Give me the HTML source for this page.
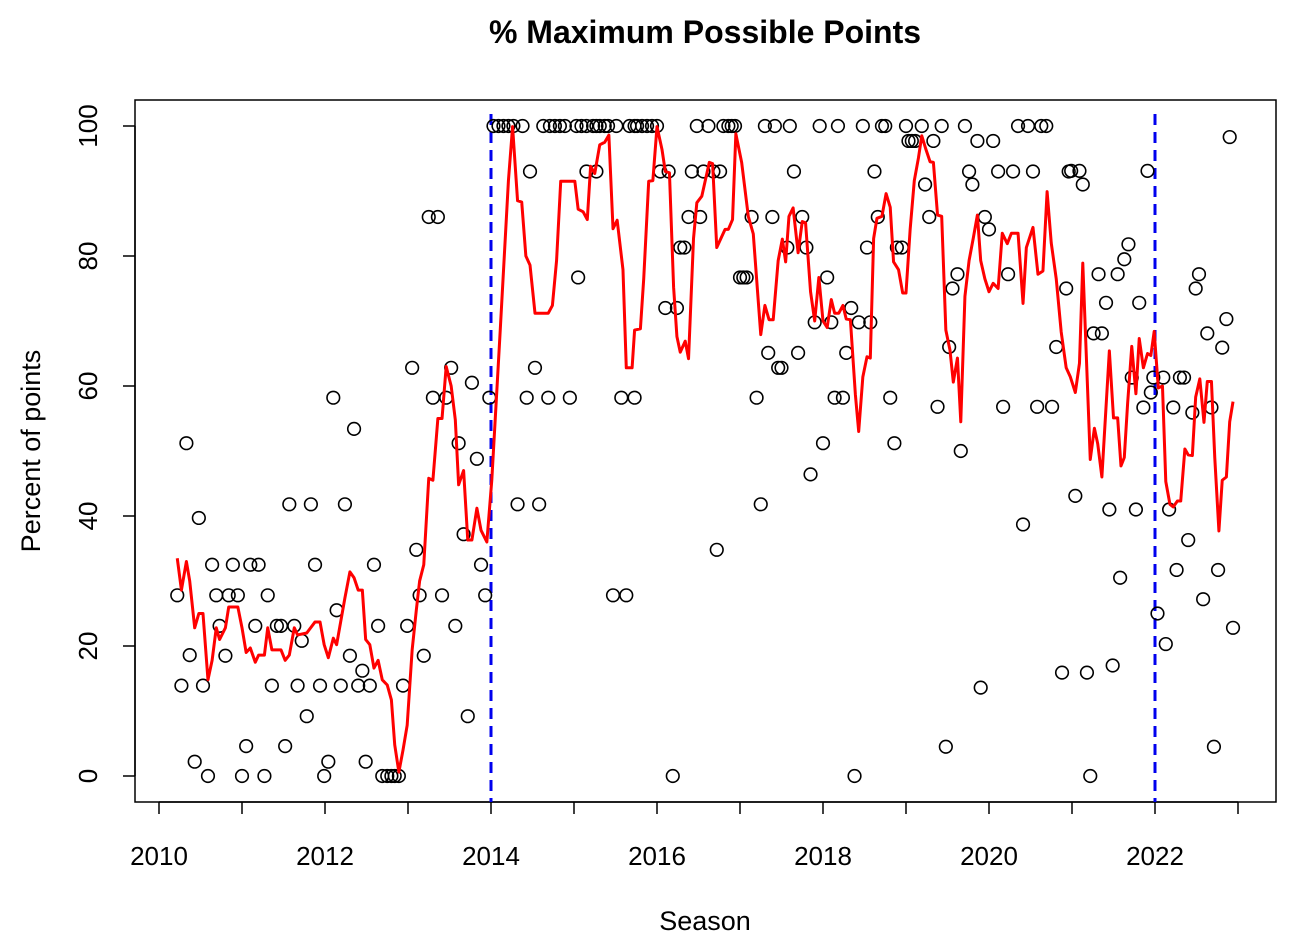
<!DOCTYPE html>
<html><head><meta charset="utf-8">
<style>
html,body{margin:0;padding:0;background:#fff;}
svg{display:block;font-family:"Liberation Sans",Arial,sans-serif;}
</style></head>
<body>
<svg id="chart" width="1315" height="944" viewBox="0 0 1315 944">
<text x="705" y="43" text-anchor="middle" font-size="32" font-weight="bold">% Maximum Possible Points</text>
<text x="705" y="930" text-anchor="middle" font-size="27">Season</text>
<text transform="translate(40,451) rotate(-90)" text-anchor="middle" font-size="27">Percent of points</text>
<rect x="135" y="100" width="1141" height="702" fill="none" stroke="#000" stroke-width="1.5"/>
<g id="axes"></g>
<g id="vlines"></g>
<g id="pts"></g>
<g id="line"></g>
</svg>
<script>
const ptYears=[2010.22,2010.27,2010.33,2010.37,2010.43,2010.48,2010.53,2010.59,2010.64,2010.69,2010.73,2010.80,2010.84,2010.89,2010.95,2011.00,2011.05,2011.10,2011.16,2011.20,2011.27,2011.31,2011.36,2011.42,2011.47,2011.52,2011.57,2011.63,2011.67,2011.72,2011.78,2011.83,2011.88,2011.94,2011.99,2012.04,2012.10,2012.14,2012.19,2012.24,2012.30,2012.35,2012.40,2012.45,2012.49,2012.54,2012.59,2012.64,2012.69,2012.75,2012.80,2012.84,2012.89,2012.94,2012.99,2013.05,2013.10,2013.14,2013.19,2013.25,2013.30,2013.36,2013.41,2013.46,2013.52,2013.57,2013.61,2013.67,2013.72,2013.77,2013.83,2013.88,2013.93,2013.98,
2014.03,2014.09,2014.15,2014.21,2014.27,2014.32,2014.38,2014.43,2014.47,2014.53,2014.58,2014.63,2014.69,2014.71,2014.77,2014.83,2014.89,2014.95,2015.03,2015.05,2015.09,2015.15,2015.15,2015.23,2015.27,2015.27,2015.31,2015.37,2015.41,2015.47,2015.51,2015.57,2015.63,2015.67,2015.73,2015.73,2015.76,2015.82,2015.88,2015.94,2016.00,2016.04,2016.10,2016.14,2016.19,2016.24,2016.28,2016.33,2016.38,2016.42,2016.48,2016.52,2016.56,2016.62,2016.68,2016.72,2016.76,2016.80,2016.86,2016.90,2016.94,2017.00,2017.04,2017.08,2017.14,2017.20,2017.25,2017.30,2017.34,2017.39,2017.42,2017.46,
2017.50,2017.57,2017.60,2017.65,2017.70,2017.75,2017.80,2017.85,2017.90,2017.96,2018.00,2018.05,2018.10,2018.14,2018.18,2018.24,2018.28,2018.34,2018.38,2018.43,2018.48,2018.53,2018.57,2018.62,2018.66,2018.71,2018.75,2018.81,2018.86,2018.89,2018.95,2019.00,2019.03,2019.07,2019.11,2019.19,2019.23,2019.28,2019.33,2019.38,2019.43,2019.48,2019.52,2019.56,2019.62,2019.66,2019.71,2019.76,2019.80,2019.86,2019.90,2019.95,2020.00,2020.05,2020.11,2020.17,2020.23,2020.29,2020.35,2020.41,2020.47,2020.53,2020.58,2020.63,2020.69,2020.76,2020.81,2020.88,2020.93,2020.96,
2020.99,2021.04,2021.09,2021.13,2021.18,2021.22,2021.26,2021.32,2021.36,2021.41,2021.45,2021.49,2021.55,2021.58,2021.63,2021.68,2021.72,2021.77,2021.81,2021.86,2021.91,2021.95,2021.98,2022.03,2022.10,2022.13,2022.17,2022.22,2022.26,2022.30,2022.35,2022.40,2022.45,2022.49,2022.53,2022.58,2022.63,2022.68,2022.71,2022.76,2022.81,2022.86,2022.90,2022.94];
const ptValues=[27.8,13.9,51.2,18.6,2.2,39.7,13.9,0,32.5,27.8,23.1,18.5,27.8,32.5,27.8,0,4.6,32.5,23.1,32.5,0,27.8,13.9,23.1,23.1,4.6,41.8,23.1,13.9,20.8,9.2,41.8,32.5,13.9,0,2.2,58.2,25.5,13.9,41.8,18.5,53.4,13.9,16.2,2.2,13.9,32.5,23.1,0,0,0,0,0,13.9,23.1,62.8,34.8,27.8,18.5,86,58.2,86,27.8,58.2,62.8,23.1,51.2,37.2,9.2,60.5,48.8,32.5,27.8,58.2,
100,100,100,100,100,41.8,100,58.2,93,62.8,41.8,100,58.2,100,100,100,100,58.2,100,76.7,100,100,93,100,100,93,100,100,100,27.8,100,58.2,27.8,100,58.2,100,100,100,100,100,100,93,72,93,0,72,81.3,81.3,86,93,100,86,93,100,93,34.8,93,100,100,100,100,76.7,76.7,76.7,86,58.2,41.8,100,65.1,86,100,62.8,
62.8,81.3,100,93,65.1,86,81.3,46.4,69.8,100,51.2,76.7,69.8,58.2,100,58.2,65.1,72,0,69.8,100,81.3,69.8,93,86,100,100,58.2,51.2,81.3,81.3,100,97.7,97.7,97.7,100,91,86,97.7,56.8,100,4.5,66,75,77.2,50,100,93,91,97.7,13.6,86,84.1,97.7,93,56.8,77.2,93,100,38.7,100,93,56.8,100,100,56.8,66,15.9,75,93,
93.1,43.1,93.1,91,15.9,0,68.1,77.2,68.1,72.8,41,17,77.2,30.5,79.5,81.8,61.3,41,72.8,56.7,93.1,59,61.3,25,61.3,20.3,41,56.7,31.7,61.3,61.3,36.3,55.9,75,77.2,27.2,68.1,56.7,4.5,31.7,65.9,70.3,98.3,22.8];
const lineYears=[2010.22,2010.27,2010.33,2010.37,2010.43,2010.48,2010.53,2010.59,2010.64,2010.69,2010.73,2010.80,2010.84,2010.95,2011.00,2011.05,2011.10,2011.16,2011.20,2011.27,2011.31,2011.36,2011.47,2011.52,2011.57,2011.63,2011.67,2011.78,2011.88,2011.94,2011.99,2012.04,2012.10,2012.14,2012.24,2012.30,2012.35,2012.40,2012.45,2012.49,2012.54,2012.59,2012.64,2012.69,2012.75,2012.80,2012.84,2012.89,2012.94,2012.99,2013.05,2013.10,2013.14,2013.19,2013.25,2013.30,2013.36,2013.41,2013.46,2013.52,2013.57,2013.61,2013.67,2013.72,2013.77,2013.83,2013.88,2013.95,
2014.01,2014.11,2014.21,2014.26,2014.32,2014.37,2014.42,2014.47,2014.53,2014.69,2014.74,2014.79,2014.84,2015.01,2015.05,2015.11,2015.16,2015.20,2015.25,2015.31,2015.37,2015.42,2015.47,2015.52,2015.59,2015.63,2015.70,2015.73,2015.80,2015.84,2015.90,2015.95,2016.00,2016.06,2016.10,2016.15,2016.20,2016.24,2016.28,2016.34,2016.38,2016.44,2016.48,2016.54,2016.63,2016.67,2016.72,2016.82,2016.86,2016.91,2016.95,2017.02,2017.10,2017.16,2017.20,2017.25,2017.30,2017.35,2017.40,
2017.46,2017.51,2017.55,2017.59,2017.64,2017.70,2017.75,2017.79,2017.85,2017.90,2017.95,2018.00,2018.05,2018.10,2018.14,2018.19,2018.24,2018.28,2018.33,2018.39,2018.43,2018.48,2018.53,2018.57,2018.61,2018.65,2018.71,2018.76,2018.81,2018.85,2018.91,2018.96,2019.00,2019.05,2019.10,2019.15,2019.19,2019.24,2019.29,2019.33,2019.38,2019.43,2019.48,2019.53,2019.57,2019.62,2019.66,2019.71,2019.76,2019.81,2019.86,2019.90,2019.95,2020.00,2020.05,2020.11,2020.16,2020.22,2020.27,2020.35,2020.41,2020.45,2020.53,2020.59,2020.65,2020.70,2020.75,2020.81,2020.87,2020.93,2020.98,
2021.04,2021.09,2021.13,2021.22,2021.27,2021.31,2021.36,2021.45,2021.50,2021.55,2021.59,2021.63,2021.67,2021.72,2021.77,2021.81,2021.86,2021.91,2021.95,2021.99,2022.04,2022.09,2022.13,2022.18,2022.22,2022.27,2022.31,2022.36,2022.40,2022.45,2022.49,2022.54,2022.59,2022.63,2022.68,2022.72,2022.77,2022.81,2022.86,2022.90,2022.94];
const lineValues=[33.5,28.6,33,30,22.8,25,25,14.8,17.8,22.8,21,22.8,26,26,22.8,19,19.7,17.5,18.6,18.6,22.8,19.4,19.4,17.8,18.6,22.8,21.7,22,23.7,23.7,20.2,18.2,21.2,20.2,27.4,31.4,30.5,28.6,28.6,21,20.2,16.6,17.8,14.8,14,11.7,4.8,0.6,4,7.8,19.4,25.5,30,32.5,45.8,45.5,55,55,63,60,54.8,44.8,47,36.3,36.3,41.2,37.8,36,
45.6,68.3,91.6,99.9,88.5,88.3,80,78.6,71.2,71.2,72.4,79.3,91.5,91.5,87.2,86.8,85.6,93.8,92.7,97.1,97.5,98.6,84.2,85.5,77.9,62.8,62.8,68.6,68.8,76.5,91.5,91.6,99.9,96.4,93,92.8,75.2,67.6,65.2,66.9,64.2,82.7,88.2,89.2,94.4,94.2,81.3,84.1,84.1,85.6,98.8,94.4,86.1,83.4,76.5,67.9,72.4,70.2,70.2,
79.3,82.6,79.1,86.1,87.4,80.5,85.3,85.1,74.5,70,76.7,70,69,73.3,71.2,71.2,72.4,70.3,70.2,58.7,53,61.4,64.5,64.3,82.7,85.8,86.1,89.6,87.5,79.1,77.9,74.3,74.3,84.1,91.6,95.1,98.5,96.4,94.5,94.4,86.3,86.1,68.6,65.5,60.6,64.3,54.5,73.8,79.3,82.7,86.3,79.3,76.5,74.5,75.8,75,83.5,81.9,83.5,83.5,72.7,81.3,84.4,77.2,77.7,89.9,82,76.5,68.3,62.8,61.4,
59,63.5,78.9,48.7,53.5,51.1,46,65.4,55.1,55.1,47.7,49,57.3,66.1,58.8,67.3,62.8,65,64.7,68.4,59.7,60,45.3,41.8,41.4,42.3,42.3,50.3,49.4,49.3,58.3,61.1,54.4,60.7,60.7,49,37.7,45.5,46,54.5,57.6];
const xTicks=[2010,2011,2012,2013,2014,2015,2016,2017,2018,2019,2020,2021,2022,2023];
const xLabels=[2010,2012,2014,2016,2018,2020,2022];
const yTicks=[0,20,40,60,80,100];
const vLineYears=[2014,2022];

const NS="http://www.w3.org/2000/svg";
const sx=v=>159+(v-2010)*83;
const sy=v=>776-v*6.5;
function mk(tag,attrs,parent){const e=document.createElementNS(NS,tag);for(const k in attrs)e.setAttribute(k,attrs[k]);parent.appendChild(e);return e;}
const axes=document.getElementById('axes');
mk('line',{x1:sx(2010),x2:sx(2023),y1:802,y2:802,stroke:'#000','stroke-width':1.5},axes);
xTicks.forEach(t=>{const l=mk('line',{x1:sx(t),x2:sx(t),y1:802,y2:814,stroke:'#000','stroke-width':1.5},axes);

});
xLabels.forEach(t=>{const tx=mk('text',{x:sx(t),y:865,'text-anchor':'middle','font-size':26},axes);tx.textContent=t;

});
mk('line',{x1:135,x2:135,y1:sy(0),y2:sy(100),stroke:'#000','stroke-width':1.5},axes);
yTicks.forEach(t=>{const l=mk('line',{x1:123,x2:135,y1:sy(t),y2:sy(t),stroke:'#000','stroke-width':1.5},axes);


const tx=mk('text',{transform:`translate(97,${sy(t)}) rotate(-90)`,'text-anchor':'middle','font-size':26},axes);tx.textContent=t;

});
const vl=document.getElementById('vlines');
vLineYears.forEach(y=>{const l=mk('line',{x1:sx(y),x2:sx(y),y1:114,y2:802,stroke:'#0000ee','stroke-width':3,'stroke-dasharray':'11 7'},vl);

});
const pts=document.getElementById('pts');
ptYears.forEach((y,i)=>{const c=mk('circle',{cx:sx(y),cy:sy(ptValues[i]),r:6.3,fill:'none',stroke:'#000','stroke-width':1.6},pts);

});
const ln=document.getElementById('line');
const p=mk('polyline',{points:lineYears.map((y,i)=>sx(y)+','+sy(lineValues[i])).join(' '),fill:'none',stroke:'#ff0000','stroke-width':3,'stroke-linejoin':'round'},ln);


</script>
</body></html>
